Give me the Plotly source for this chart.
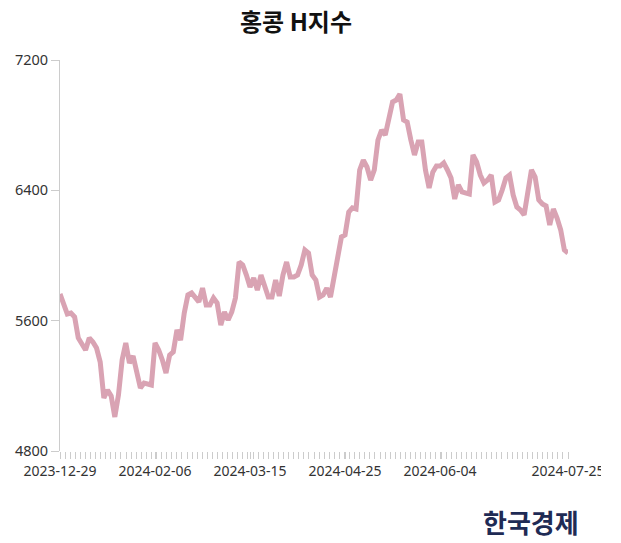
import pandas as pd
import plotly.graph_objects as go

# HK trading days (categories)
hk_holidays = ["2024-01-01", "2024-02-12", "2024-02-13", "2024-03-29", "2024-04-01",
               "2024-04-04", "2024-05-01", "2024-05-15", "2024-06-10", "2024-07-01"]
dates = [d.strftime("%Y-%m-%d") for d in pd.bdate_range("2023-12-29", "2024-07-25")
         if d.strftime("%Y-%m-%d") not in hk_holidays]

# Hang Seng China Enterprises (H) index
values = [
    5764, 5696, 5641, 5647, 5623, 5494, 5457, 5420, 5494, 5469,
    5432, 5346, 5125, 5174, 5138, 5009, 5144, 5359, 5463, 5340,
    5383, 5266, 5187, 5217, 5211, 5205, 5463, 5420, 5359, 5279,
    5389, 5408, 5543, 5481, 5647, 5758, 5770, 5745, 5715, 5800,
    5696, 5696, 5739, 5708, 5573, 5653, 5604, 5653, 5739, 5960,
    5942, 5880, 5807, 5862, 5788, 5880, 5819, 5745, 5745, 5850,
    5751, 5880, 5960, 5868, 5868, 5880, 5942, 6034, 6015, 5880,
    5850, 5745, 5758, 5800, 5745, 5850, 5991, 6114, 6126, 6267,
    6292, 6285, 6525, 6586, 6543, 6463, 6525, 6709, 6770, 6740,
    6862, 6942, 6954, 6991, 6832, 6819, 6709, 6617, 6697, 6697,
    6525, 6414, 6512, 6549, 6549, 6568, 6525, 6476, 6347, 6433,
    6390, 6384, 6377, 6617, 6574, 6494, 6445, 6463, 6494, 6328,
    6341, 6402, 6476, 6494, 6371, 6298, 6279, 6249, 6402, 6525,
    6482, 6341, 6316, 6304, 6187, 6285, 6230, 6157, 6034, 6015,
]

y_ticks = [4800, 5600, 6400, 7200]
title_text = "홍콩 H지수"
logo_text = "한국경제"

n = min(len(dates), len(values))
dates = dates[:n]
values = values[:n]
idx = list(range(n))
label_idx = [i for i in idx if i % 26 == 0 and i < n - 20] + [n - 1]
label_txt = [dates[i] for i in label_idx]

fig = go.Figure()
fig.add_trace(go.Scatter(
    x=idx, y=values, mode="lines",
    line=dict(color="#d9a3b3", width=5),
    hoverinfo="skip", showlegend=False,
))

W, H = 601, 543
L, R, T, B = 60, 33, 60, 92

fig.update_layout(
    width=W, height=H,
    margin=dict(l=L, r=R, t=T, b=B, pad=0, autoexpand=False),
    paper_bgcolor="white", plot_bgcolor="white",
    font=dict(family="Noto Sans, Noto Sans CJK KR, sans-serif", size=14, color="#333"),
    title=dict(
        text=title_text, x=296 / W, xref="container",
        y=1 - 23 / H, yref="container", xanchor="center", yanchor="middle",
        font=dict(family="Noto Sans CJK KR", size=24, color="#111", weight="bold"),
    ),
    xaxis=dict(
        range=[0, n - 1], showgrid=False, zeroline=False, showline=False,
        automargin=False,
        tickmode="array", tickvals=label_idx, ticktext=label_txt,
        ticks="outside", ticklen=7, tickcolor="#cccccc", tickwidth=1,
        ticklabeloverflow="allow",
        minor=dict(ticks="outside", dtick=1.39, tick0=0, ticklen=7,
                   tickcolor="#cccccc", tickwidth=1, showgrid=False),
        tickfont=dict(size=14, color="#333"),
    ),
    yaxis=dict(
        range=[4800, 7200], tickvals=y_ticks, showgrid=False, zeroline=False,
        automargin=False,
        showline=True, linecolor="#cccccc", linewidth=1,
        ticks="outside", ticklen=8, tickcolor="#cccccc",
        tickfont=dict(size=14.5, color="#333"),
    ),
    annotations=[dict(
        text=logo_text, x=(531 - L) / (W - L - R), y=-(521 - (H - B)) / (H - T - B),
        xref="paper", yref="paper", xanchor="center", yanchor="middle",
        showarrow=False,
        font=dict(family="Noto Sans CJK KR", size=26, color="#1f2b55", weight="bold"),
    )],
)

fig.write_html("out.html")
